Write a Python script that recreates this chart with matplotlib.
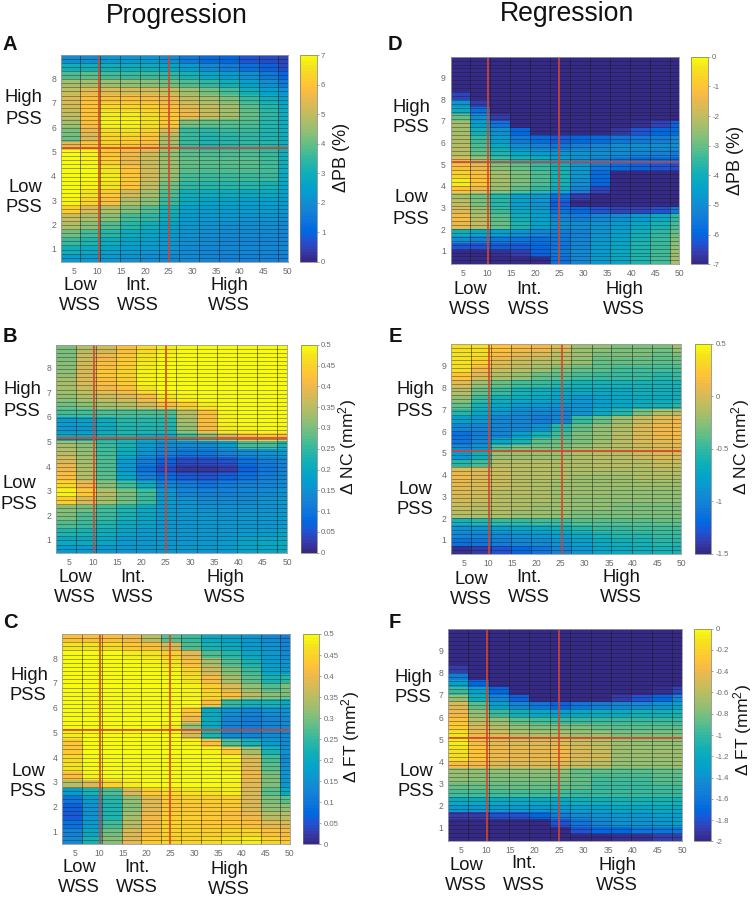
import numpy as np
import matplotlib
matplotlib.use('Agg')
import matplotlib.pyplot as plt
from matplotlib.colors import LinearSegmentedColormap

plt.rcParams['font.family'] = ['Liberation Sans', 'DejaVu Sans']
plt.rcParams['mathtext.default'] = 'regular'

W, H = 755, 899

wss_edges = [2.35, 6.4, 10.6, 14.8, 18.9, 23.0, 27.2, 31.4, 35.5, 39.7, 43.9, 48.0, 50.0]
wss_ticks = [5, 10, 15, 20, 25, 30, 35, 40, 45, 50]

# rows listed from top of the panel to the bottom, columns low to high WSS
pb_prog = [
 [2.0,2.0,2.2,2.2,2.2,2.0,1.5,1.1,1.0,0.7,0.6,0.5],
 [3.0,3.0,3.0,2.9,2.9,2.7,2.3,1.9,1.6,1.3,0.9,0.6],
 [3.8,3.9,3.7,3.6,3.6,3.4,3.1,2.7,2.3,2.0,1.5,1.0],
 [4.6,4.7,4.5,4.4,4.3,4.1,3.8,3.4,3.0,2.5,2.0,1.5],
 [5.0,5.4,5.3,5.2,5.2,5.0,4.5,4.1,3.7,3.0,2.5,2.1],
 [5.3,5.8,5.9,5.8,5.7,5.5,5.0,4.6,4.2,3.6,3.0,2.5],
 [5.2,6.0,6.4,6.3,6.2,5.9,5.4,5.0,4.6,3.9,3.3,2.8],
 [5.0,6.0,6.7,6.7,6.5,6.1,5.6,5.1,4.7,4.0,3.4,2.9],
 [4.7,5.9,6.8,6.8,6.6,6.1,4.2,4.0,3.9,3.8,3.3,2.9],
 [4.2,5.5,6.5,6.6,6.3,5.3,3.6,3.4,3.5,3.5,3.2,2.9],
 [4.1,5.3,6.3,6.3,6.0,4.8,3.5,3.2,3.3,3.4,3.2,2.9],
 [5.5,6.0,6.2,6.0,5.7,4.6,3.5,3.2,3.3,3.4,3.3,3.0],
 [6.9,6.8,6.0,5.6,5.2,4.4,3.9,3.8,3.8,3.8,3.6,3.0],
 [7.0,6.8,6.2,5.5,5.1,4.5,4.0,3.9,3.9,3.9,3.7,3.0],
 [7.0,6.9,6.6,6.0,5.2,4.5,3.9,3.8,3.8,3.8,3.7,2.9],
 [7.0,6.9,6.7,6.1,5.2,4.4,3.7,3.6,3.6,3.6,3.5,2.8],
 [7.0,6.8,6.6,6.0,5.0,4.1,3.4,3.3,3.3,3.3,3.1,2.7],
 [6.9,6.6,6.1,5.2,4.6,3.8,3.0,2.9,2.9,2.8,2.8,2.5],
 [6.8,6.3,5.8,4.8,4.3,3.5,2.8,2.6,2.6,2.5,2.5,2.3],
 [6.2,5.3,4.8,4.2,3.8,3.1,2.5,2.4,2.3,2.3,2.3,2.2],
 [5.1,4.8,4.3,3.7,3.4,2.9,2.4,2.2,2.2,2.1,2.1,2.0],
 [4.8,4.3,3.8,3.3,3.0,2.6,2.2,2.1,2.0,2.0,2.0,1.9],
 [4.1,3.7,3.3,2.9,2.7,2.4,2.1,2.0,1.9,1.9,1.9,1.8],
 [3.5,3.2,2.9,2.6,2.5,2.2,2.0,1.9,1.8,1.8,1.8,1.8],
 [3.0,2.8,2.6,2.4,2.2,2.1,1.9,1.8,1.8,1.8,1.8,1.8],
 [2.4,2.3,2.2,2.1,2.0,1.9,1.9,1.8,1.7,1.7,1.7,1.7],
]
nc_prog = [
 [.30,.35,.37,.42,.46,.48,.50,.50,.50,.50,.50,.50],
 [.30,.36,.40,.43,.47,.49,.50,.50,.50,.50,.50,.50],
 [.31,.37,.42,.44,.48,.50,.50,.50,.50,.50,.50,.50],
 [.32,.38,.43,.45,.49,.50,.50,.50,.50,.50,.50,.50],
 [.33,.38,.42,.44,.49,.50,.50,.50,.50,.50,.50,.50],
 [.33,.36,.40,.42,.47,.50,.50,.50,.50,.50,.50,.50],
 [.32,.34,.36,.38,.41,.47,.49,.50,.50,.50,.50,.50],
 [.29,.31,.33,.35,.37,.41,.44,.48,.50,.50,.50,.50],
 [.26,.26,.27,.27,.27,.27,.35,.42,.49,.50,.50,.50],
 [.17,.18,.21,.24,.24,.24,.33,.42,.49,.50,.50,.50],
 [.16,.17,.20,.23,.23,.23,.32,.41,.48,.49,.50,.49],
 [.20,.20,.22,.23,.21,.20,.25,.30,.36,.41,.43,.42],
 [.33,.31,.25,.22,.17,.14,.14,.14,.17,.26,.26,.22],
 [.35,.32,.26,.21,.15,.12,.10,.10,.12,.14,.15,.16],
 [.38,.33,.27,.17,.11,.07,.04,.04,.05,.09,.11,.13],
 [.40,.34,.27,.16,.09,.04,.02,.02,.03,.07,.10,.12],
 [.42,.35,.28,.19,.12,.08,.06,.05,.07,.09,.11,.13],
 [.46,.40,.31,.26,.21,.13,.11,.10,.11,.12,.13,.14],
 [.49,.43,.35,.30,.26,.16,.13,.12,.12,.13,.14,.15],
 [.44,.38,.33,.29,.25,.17,.15,.14,.14,.14,.15,.16],
 [.31,.29,.26,.23,.20,.17,.16,.15,.15,.15,.15,.16],
 [.30,.27,.25,.22,.19,.17,.16,.16,.15,.16,.16,.17],
 [.27,.25,.23,.20,.18,.16,.16,.16,.16,.16,.16,.17],
 [.23,.22,.21,.18,.17,.16,.16,.16,.16,.17,.17,.18],
 [.20,.20,.19,.17,.16,.16,.16,.16,.17,.18,.19,.20],
 [.17,.17,.16,.16,.16,.16,.16,.16,.17,.18,.19,.20],
]
ft_prog = [
 [.42,.42,.42,.40,.35,.28,.25,.20,.18,.16,.14,.12],
 [.47,.47,.46,.43,.42,.37,.27,.22,.20,.17,.15,.13],
 [.50,.50,.50,.48,.47,.44,.39,.27,.24,.19,.16,.14],
 [.50,.50,.50,.50,.49,.47,.42,.33,.27,.22,.17,.15],
 [.50,.50,.50,.50,.50,.49,.45,.36,.30,.25,.18,.17],
 [.50,.50,.50,.50,.50,.50,.47,.41,.33,.28,.22,.24],
 [.50,.50,.50,.50,.50,.50,.49,.44,.38,.32,.27,.30],
 [.50,.50,.50,.50,.50,.50,.49,.46,.42,.35,.31,.30],
 [.50,.50,.50,.50,.50,.50,.50,.42,.25,.22,.22,.20],
 [.50,.50,.50,.50,.50,.50,.43,.20,.15,.13,.15,.15],
 [.50,.50,.50,.50,.50,.50,.40,.20,.13,.11,.13,.14],
 [.50,.50,.50,.50,.50,.48,.32,.20,.12,.11,.13,.14],
 [.48,.50,.50,.50,.50,.50,.38,.23,.14,.13,.14,.14],
 [.43,.50,.50,.50,.50,.50,.49,.42,.27,.22,.17,.14],
 [.43,.50,.50,.50,.50,.50,.50,.49,.43,.33,.22,.15],
 [.46,.50,.50,.50,.50,.50,.50,.50,.49,.38,.26,.14],
 [.47,.50,.50,.50,.50,.50,.50,.50,.48,.39,.28,.15],
 [.42,.49,.50,.50,.50,.50,.50,.50,.50,.40,.30,.16],
 [.35,.38,.45,.48,.50,.50,.50,.50,.49,.39,.30,.16],
 [.17,.22,.27,.38,.44,.46,.47,.47,.48,.38,.28,.20],
 [.10,.17,.24,.32,.39,.43,.44,.44,.44,.38,.30,.28],
 [.07,.15,.23,.31,.39,.43,.43,.43,.43,.38,.32,.32],
 [.06,.15,.23,.33,.40,.44,.44,.43,.42,.40,.35,.35],
 [.09,.17,.26,.35,.41,.45,.44,.43,.43,.42,.39,.38],
 [.12,.19,.29,.38,.42,.45,.45,.44,.45,.45,.42,.41],
 [.14,.22,.31,.39,.43,.45,.45,.46,.47,.48,.45,.43],
]
pb_reg = [
 [-7.0,-7.0,-7.0,-7.0,-7.0,-7.0,-7.0,-7.0,-7.0,-7.0,-7.0,-7.0],
 [-7.0,-7.0,-7.0,-7.0,-7.0,-7.0,-7.0,-7.0,-7.0,-7.0,-7.0,-7.0],
 [-7.0,-7.0,-7.0,-7.0,-7.0,-7.0,-7.0,-7.0,-7.0,-7.0,-7.0,-7.0],
 [-7.0,-7.0,-7.0,-7.0,-7.0,-7.0,-7.0,-7.0,-7.0,-7.0,-7.0,-7.0],
 [-7.0,-7.0,-7.0,-7.0,-7.0,-7.0,-7.0,-7.0,-7.0,-7.0,-7.0,-7.0],
 [-6.5,-7.0,-7.0,-7.0,-7.0,-7.0,-7.0,-7.0,-7.0,-7.0,-7.0,-7.0],
 [-4.9,-6.6,-7.0,-7.0,-7.0,-7.0,-7.0,-7.0,-7.0,-7.0,-7.0,-7.0],
 [-4.2,-5.7,-7.0,-7.0,-7.0,-7.0,-7.0,-7.0,-7.0,-7.0,-7.0,-7.0],
 [-3.0,-5.0,-6.6,-7.0,-7.0,-7.0,-7.0,-7.0,-7.0,-7.0,-7.0,-7.0],
 [-2.4,-4.5,-5.6,-7.0,-7.0,-7.0,-7.0,-7.0,-7.0,-6.8,-6.5,-6.1],
 [-2.3,-4.0,-5.0,-6.0,-7.0,-7.0,-7.0,-7.0,-6.7,-6.3,-6.0,-5.8],
 [-2.2,-3.5,-4.6,-5.5,-5.9,-6.2,-6.0,-5.8,-5.6,-5.5,-5.4,-5.2],
 [-2.1,-3.2,-4.2,-5.0,-5.3,-5.5,-5.3,-5.2,-5.0,-5.0,-5.0,-5.0],
 [-2.1,-3.0,-3.8,-4.3,-4.6,-4.9,-4.9,-5.0,-5.1,-5.2,-5.3,-5.4],
 [-1.6,-2.4,-3.3,-3.8,-4.0,-4.5,-5.0,-5.3,-5.6,-5.8,-5.9,-6.0],
 [-1.1,-1.5,-2.7,-3.0,-3.4,-4.0,-4.8,-5.5,-5.9,-6.1,-6.3,-6.4],
 [-0.7,-1.2,-2.4,-2.8,-3.2,-3.9,-4.8,-5.9,-6.9,-7.0,-7.0,-7.0],
 [-0.3,-1.0,-2.3,-2.8,-3.2,-3.9,-5.0,-6.0,-7.0,-7.0,-7.0,-7.0],
 [-1.0,-1.5,-2.6,-3.1,-3.6,-4.2,-5.3,-6.5,-7.0,-7.0,-7.0,-7.0],
 [-2.3,-2.9,-3.7,-4.4,-4.8,-5.7,-6.6,-7.0,-7.0,-7.0,-7.0,-7.0],
 [-2.0,-2.8,-3.7,-4.5,-4.9,-6.2,-7.0,-7.0,-7.0,-7.0,-7.0,-7.0],
 [-1.7,-2.5,-3.4,-4.3,-4.7,-5.7,-6.0,-6.3,-6.5,-6.5,-6.3,-5.5],
 [-1.3,-2.1,-3.1,-4.0,-4.5,-5.2,-5.4,-5.2,-5.0,-4.7,-4.2,-3.6],
 [-1.5,-2.0,-3.0,-3.8,-4.4,-5.0,-5.0,-4.9,-4.6,-4.3,-3.9,-3.3],
 [-4.0,-4.3,-4.5,-4.9,-5.2,-5.4,-5.3,-4.9,-4.5,-4.0,-3.6,-3.0],
 [-5.0,-5.3,-5.5,-5.6,-5.7,-5.5,-5.2,-4.8,-4.4,-3.9,-3.5,-2.8],
 [-6.3,-6.3,-6.2,-6.2,-6.0,-5.6,-5.2,-4.7,-4.3,-3.8,-3.4,-2.6],
 [-7.0,-7.0,-6.8,-6.6,-6.1,-5.5,-5.1,-4.7,-4.2,-3.8,-3.3,-2.5],
 [-7.0,-7.0,-7.0,-7.0,-6.9,-5.7,-5.2,-4.7,-4.3,-3.8,-3.3,-2.4],
]
nc_reg = [
 [.35,.35,.20,.15,.10,.00,-.20,-.25,-.30,-.30,-.30,-.20],
 [.40,.35,.15,.05,.00,-.10,-.20,-.30,-.30,-.30,-.35,-.30],
 [.40,.25,.05,-.05,-.10,-.15,-.25,-.35,-.35,-.35,-.40,-.35],
 [.35,.10,-.05,-.10,-.20,-.30,-.35,-.40,-.45,-.45,-.45,-.45],
 [.20,.00,-.15,-.25,-.35,-.40,-.45,-.50,-.50,-.50,-.55,-.50],
 [.05,-.20,-.35,-.45,-.50,-.55,-.60,-.60,-.60,-.60,-.60,-.60],
 [-.10,-.35,-.50,-.60,-.65,-.70,-.70,-.70,-.70,-.65,-.65,-.65],
 [-.25,-.50,-.65,-.70,-.75,-.80,-.85,-.80,-.75,-.70,-.70,-.65],
 [-.35,-.60,-.75,-.85,-.85,-.90,-.90,-.80,-.75,-.65,-.60,-.55],
 [-.55,-.75,-.85,-.95,-1.0,-1.0,-.90,-.70,-.55,-.30,-.15,-.10],
 [-.80,-.85,-1.0,-1.0,-1.05,-1.0,-.50,-.35,-.20,-.05,.05,.10],
 [-1.0,-1.0,-1.0,-1.0,-.90,-.55,-.35,-.25,-.15,.00,.10,.15],
 [-1.15,-1.05,-1.0,-.80,-.60,-.45,-.30,-.25,-.10,.00,.10,.15],
 [-1.10,-1.0,-.75,-.60,-.40,-.35,-.30,-.20,-.10,.00,.05,.10],
 [-.95,-.85,-.40,-.30,-.30,-.30,-.20,-.15,-.10,-.05,.00,.05],
 [-.85,-.65,-.20,-.20,-.20,-.20,-.15,-.10,-.10,-.05,.00,.00],
 [-.55,-.45,-.10,-.10,-.10,-.15,-.15,-.10,-.10,-.10,-.05,-.05],
 [.05,.02,-.05,-.10,-.10,-.15,-.15,-.15,-.15,-.15,-.10,-.10],
 [.10,.03,-.05,-.10,-.10,-.15,-.20,-.20,-.20,-.15,-.15,-.15],
 [.05,.00,-.05,-.10,-.15,-.20,-.20,-.20,-.20,-.20,-.20,-.20],
 [.00,-.03,-.10,-.10,-.15,-.20,-.20,-.20,-.25,-.25,-.25,-.25],
 [-.03,-.05,-.10,-.15,-.15,-.20,-.25,-.25,-.25,-.25,-.25,-.25],
 [-.05,-.10,-.10,-.15,-.20,-.20,-.25,-.25,-.30,-.30,-.30,-.30],
 [-.10,-.15,-.15,-.20,-.20,-.25,-.30,-.30,-.30,-.30,-.30,-.30],
 [-.60,-.55,-.50,-.50,-.45,-.45,-.40,-.40,-.40,-.40,-.35,-.35],
 [-.90,-.85,-.80,-.75,-.70,-.65,-.55,-.50,-.50,-.45,-.45,-.45],
 [-1.0,-1.0,-.95,-.90,-.85,-.80,-.70,-.60,-.55,-.55,-.50,-.50],
 [-1.15,-1.10,-1.05,-1.0,-.95,-.90,-.80,-.70,-.65,-.60,-.55,-.55],
 [-1.45,-1.40,-1.30,-1.20,-1.10,-1.0,-.85,-.75,-.70,-.65,-.60,-.60],
]
ft_reg = [
 [-2.0,-2.0,-2.0,-2.0,-2.0,-2.0,-2.0,-2.0,-2.0,-2.0,-2.0,-2.0],
 [-2.0,-2.0,-2.0,-2.0,-2.0,-2.0,-2.0,-2.0,-2.0,-2.0,-2.0,-2.0],
 [-2.0,-2.0,-2.0,-2.0,-2.0,-2.0,-2.0,-2.0,-2.0,-2.0,-2.0,-2.0],
 [-2.0,-2.0,-2.0,-2.0,-2.0,-2.0,-2.0,-2.0,-2.0,-2.0,-2.0,-2.0],
 [-2.0,-2.0,-2.0,-2.0,-2.0,-2.0,-2.0,-2.0,-2.0,-2.0,-2.0,-2.0],
 [-1.9,-2.0,-2.0,-2.0,-2.0,-2.0,-2.0,-2.0,-2.0,-2.0,-2.0,-2.0],
 [-1.55,-2.0,-2.0,-2.0,-2.0,-2.0,-2.0,-2.0,-2.0,-2.0,-2.0,-2.0],
 [-1.3,-1.7,-2.0,-2.0,-2.0,-2.0,-2.0,-2.0,-2.0,-2.0,-2.0,-2.0],
 [-1.0,-1.3,-1.7,-2.0,-2.0,-2.0,-2.0,-2.0,-2.0,-2.0,-1.95,-1.85],
 [-.75,-1.15,-1.5,-1.75,-2.0,-2.0,-2.0,-2.0,-1.9,-1.8,-1.7,-1.5],
 [-.50,-.90,-1.3,-1.5,-1.6,-1.75,-1.6,-1.55,-1.5,-1.45,-1.4,-1.3],
 [-.40,-.75,-1.0,-1.15,-1.25,-1.3,-1.25,-1.2,-1.2,-1.15,-1.15,-1.1],
 [-.30,-.60,-.75,-.90,-.95,-1.0,-1.0,-1.0,-1.0,-1.0,-1.0,-1.0],
 [-.25,-.50,-.60,-.75,-.80,-.80,-.80,-.85,-.90,-.90,-.90,-.90],
 [-.12,-.40,-.50,-.60,-.65,-.65,-.70,-.70,-.80,-.80,-.80,-.80],
 [-.08,-.35,-.45,-.50,-.50,-.50,-.55,-.60,-.70,-.75,-.75,-.75],
 [-.10,-.30,-.40,-.42,-.42,-.40,-.50,-.55,-.70,-.70,-.70,-.70],
 [-.15,-.30,-.40,-.42,-.42,-.40,-.48,-.52,-.70,-.70,-.70,-.70],
 [-.35,-.40,-.50,-.50,-.50,-.50,-.55,-.60,-.75,-.75,-.75,-.70],
 [-.70,-.72,-.75,-.75,-.75,-.75,-.85,-.85,-.90,-.90,-.85,-.85],
 [-.75,-.78,-.80,-.80,-.80,-.80,-.85,-.95,-.95,-.95,-.90,-.90],
 [-.85,-.85,-.85,-.85,-.85,-.85,-.90,-1.0,-1.0,-1.0,-.95,-.95],
 [-.95,-.95,-.95,-.95,-.95,-.95,-1.0,-1.0,-1.0,-1.0,-1.0,-1.0],
 [-1.2,-1.2,-1.2,-1.2,-1.2,-1.2,-1.15,-1.15,-1.1,-1.1,-1.1,-1.1],
 [-1.35,-1.35,-1.35,-1.35,-1.35,-1.35,-1.3,-1.3,-1.25,-1.25,-1.2,-1.2],
 [-1.9,-1.9,-1.8,-1.8,-1.7,-1.55,-1.45,-1.4,-1.35,-1.35,-1.3,-1.3],
 [-2.0,-2.0,-2.0,-2.0,-2.0,-1.8,-1.6,-1.5,-1.4,-1.4,-1.35,-1.3],
 [-2.0,-2.0,-2.0,-2.0,-2.0,-2.0,-1.8,-1.7,-1.7,-1.6,-1.6,-1.6],
 [-2.0,-2.0,-2.0,-2.0,-2.0,-2.0,-2.0,-2.0,-1.95,-1.95,-1.9,-1.9],
]

parula_rgb = [
 (.2081,.1663,.5292),(.2081,.2386,.6771),(.1253,.3242,.8303),(.0060,.4086,.8828),
 (.0498,.4586,.8641),(.0779,.5040,.8384),(.0641,.5570,.8240),(.0265,.6137,.8135),
 (.0228,.6535,.7768),(.0590,.6838,.7254),(.1453,.7098,.6646),(.2586,.7317,.5954),
 (.3953,.7459,.5244),(.5300,.7491,.4661),(.6473,.7456,.4188),(.7525,.7384,.3768),
 (.8507,.7299,.3360),(.9450,.7261,.2886),(.9990,.7653,.2164),(.9789,.8271,.1633),
 (.9589,.8949,.1132),(.9763,.9831,.0538),
]
parula = LinearSegmentedColormap.from_list('parula', parula_rgb, N=64)

fig = plt.figure(figsize=(W/100, H/100), dpi=100)
RED = '#d9432f'
GREY = '#6a6a6a'


def px(x, y):
    return x / W, 1 - y / H


def label(x, y, s, **kw):
    fx, fy = px(x, y)
    kw.setdefault('ha', 'center')
    kw.setdefault('va', 'center')
    fig.text(fx, fy, s, **kw)


def panel(data, box, cbox, ylim, yticks, hy, vx, vmin, vmax, cticks, ctexts, n_lines):
    x0, y0, x1, y1 = box
    ax = fig.add_axes([x0/W, 1-y1/H, (x1-x0)/W, (y1-y0)/H])
    arr = np.array(data, dtype=float)[::-1]
    yedges = np.linspace(ylim[0], ylim[1], arr.shape[0] + 1)
    mesh = ax.pcolormesh(wss_edges, yedges, arr, cmap=parula, vmin=vmin, vmax=vmax,
                         shading='flat', rasterized=False)
    ax.hlines(np.linspace(ylim[0], ylim[1], n_lines + 1)[1:-1], wss_edges[0], wss_edges[-1],
              colors='#1a1a1a', lw=0.55, alpha=0.5)
    ax.vlines(wss_edges[1:-1], ylim[0], ylim[1], colors='#1a1a1a', lw=0.65, alpha=0.55)
    ax.axhline(hy, color=RED, lw=1.3, alpha=0.9)
    for v in vx:
        ax.axvline(v, color=RED, lw=1.3, alpha=0.9)
    ax.set_xlim(wss_edges[0], wss_edges[-1])
    ax.set_ylim(ylim)
    ax.set_xticks(wss_ticks)
    ax.set_yticks(yticks)
    ax.tick_params(length=0, labelsize=6.2, labelcolor=GREY, pad=3.5)
    for s in ax.spines.values():
        s.set_color('#9a9a9a')
        s.set_linewidth(0.6)
    cx0, cy0, cx1, cy1 = cbox
    cax = fig.add_axes([cx0/W, 1-cy1/H, (cx1-cx0)/W, (cy1-cy0)/H])
    cb = fig.colorbar(mesh, cax=cax)
    cb.set_ticks(cticks)
    cb.set_ticklabels(ctexts)
    cb.ax.tick_params(length=1.5, width=0.4, labelsize=5.6, labelcolor=GREY, color=GREY, pad=1.5)
    cb.outline.set_edgecolor('#777777')
    cb.outline.set_linewidth(0.5)


def side_texts(high, low, lw, iw, hw, fs=13.2):
    for (x, y), s in [(high[0], 'High'), (high[1], 'PSS'), (low[0], 'Low'), (low[1], 'PSS'),
                      (lw[0], 'Low'), (lw[1], 'WSS'), (iw[0], 'Int.'), (iw[1], 'WSS'),
                      (hw[0], 'High'), (hw[1], 'WSS')]:
        label(x, y, s, fontsize=fs, color='#161616')


label(177, 16, 'Progression', fontsize=19.2, color='#111111')
label(567, 14, 'Regression', fontsize=19.2, color='#111111')
for x, y, s in [(10, 44, 'A'), (395, 44, 'D'), (10, 336, 'B'), (395, 337, 'E'), (10, 622, 'C'), (395, 622, 'F')]:
    label(x, y, s, fontsize=14.5, fontweight='bold', color='#111111')

panel(pb_prog, (61, 55, 287.7, 261.7), (300, 55, 316.7, 261.7), (0.47, 8.97), range(1, 9), 5.15, (10.25, 25), 0, 7,
      list(range(8)), [str(i) for i in range(8)], 51)
panel(nc_prog, (56, 344.7, 287, 552.7), (300.7, 344.7, 316.7, 552.7), (0.48, 8.93), range(1, 9), 5.15, (10.2, 25), 0, .5,
      [i*.05 for i in range(11)], ['0','0.05','0.1','0.15','0.2','0.25','0.3','0.35','0.4','0.45','0.5'], 51)
panel(ft_prog, (62.3, 634, 289.7, 844.3), (303.3, 634, 319.3, 844.3), (0.48, 8.97), range(1, 9), 5.1, (10.2, 25), 0, .5,
      [i*.05 for i in range(11)], ['0','0.05','0.1','0.15','0.2','0.25','0.3','0.35','0.4','0.45','0.5'], 51)
panel(pb_reg, (450.7, 56.7, 679.3, 264.3), (691.3, 56.7, 708, 264.3), (0.37, 9.97), range(1, 10), 5.1, (10.2, 25), -7, 0,
      list(range(-7, 1)), [str(i) for i in range(-7, 1)], 53)
panel(nc_reg, (451.3, 344, 681.3, 553.7), (695.3, 344, 711.3, 553.7), (0.36, 10.0), range(1, 10), 5.1, (10.2, 25.2), -1.5, .5,
      [-1.5, -1, -.5, 0, .5], ['-1.5', '-1', '-0.5', '0', '0.5'], 53)
panel(ft_reg, (448.3, 628.7, 682, 841.3), (694.3, 628.7, 711.3, 841.3), (0.37, 10.0), range(1, 10), 5.05, (10.2, 25), -2, 0,
      [-2 + .2*i for i in range(11)], ['-2','-1.8','-1.6','-1.4','-1.2','-1','-0.8','-0.6','-0.4','-0.2','0'], 53)

side_texts([(23, 98), (24, 119)], [(25, 187), (24, 207)], [(80, 286), (80, 306)], [(138, 285), (138, 306)], [(229, 285), (229, 306)])
side_texts([(411, 107), (411, 128)], [(411, 198), (411, 219)], [(470, 290), (470, 310)], [(529, 290), (529, 310)], [(624, 290), (624, 310)])
side_texts([(22, 389), (22, 412)], [(19, 484), (19, 504)], [(75, 578), (75, 598)], [(133, 577), (133, 598)], [(225, 577), (225, 597)])
side_texts([(415, 390), (415, 412)], [(415, 489), (415, 509)], [(471, 579), (471, 599)], [(529, 578), (529, 598)], [(621, 578), (621, 598)])
side_texts([(29, 675), (28, 696)], [(28, 771), (28, 791)], [(79, 868), (79, 888)], [(137, 868), (137, 888)], [(229, 869), (229, 889)])
side_texts([(413, 678), (413, 698)], [(416, 771), (416, 791)], [(466, 866), (466, 885)], [(524, 864), (524, 885)], [(617, 866), (617, 885)])

for x, y, s, fs in [(342, 157, 'ΔPB (%)', 13), (735, 160, 'ΔPB (%)', 13),
                    (348, 447, 'Δ NC (mm$^2$)', 12.6), (741, 447, 'Δ NC (mm$^2$)', 12.6),
                    (351, 737, 'Δ FT (mm$^2$)', 12.6), (743, 730, 'Δ FT (mm$^2$)', 12.6)]:
    label(x, y, s, fontsize=fs, rotation=90, color='#161616')

fig.savefig('out.png', dpi=100, facecolor='white')
